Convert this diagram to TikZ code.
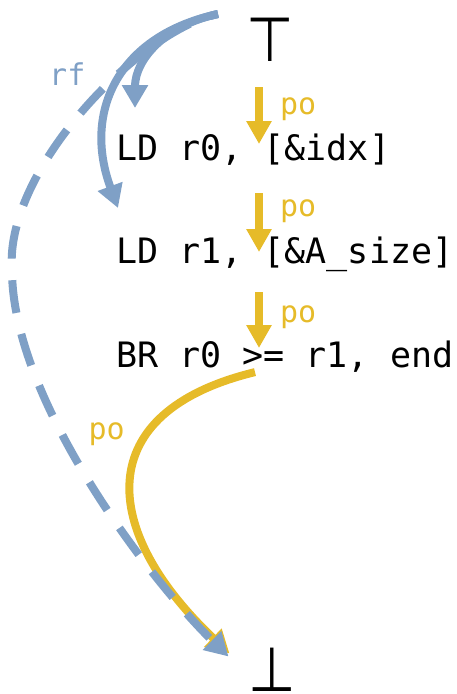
\documentclass[tikz,border=0pt]{standalone}
\usepackage{fontspec}
\setmainfont{DejaVu Sans}
\setmonofont{DejaVu Sans Mono}
\usepackage{xcolor}
\usetikzlibrary{arrows.meta}

\definecolor{rfblue}{RGB}{127,160,198}
\definecolor{poyellow}{RGB}{230,187,41}

\begin{document}
\begin{tikzpicture}[x=1pt, y=1pt,
        instr/.style={anchor=base west, inner sep=0pt, font=\fontsize{35}{35}\selectfont\ttfamily},
        bound/.style={inner sep=0pt, font=\fontsize{62}{62}\selectfont},
        lbl/.style={inner sep=0pt, anchor=base west, font=\fontsize{30}{30}\selectfont\ttfamily},
        po/.style={draw=poyellow, line width=8pt, -{Triangle[length=23pt, width=24pt]}},
        rf/.style={draw=rfblue, line width=8pt, -{Triangle[length=23pt, width=25pt]}}]

        \useasboundingbox (0,0) rectangle (456,-694);

        \node[bound] (top) at (270,-39.5) {\scalebox{0.88}[1]{⊤}};
        \node[instr] (ld0) at (116,-160) {LD r0, [\&idx]};
        \node[instr] (ld1) at (116,-263) {LD r1, [\&A\_size]};
        \node[instr] (br) at (116,-367) {BR r0 >= r1, end};
        \node[bound] (bot) at (272.5,-669.5) {\scalebox{0.88}[1]{⊥}};

        \coordinate (col) at (259,0);
        \coordinate (rfsrc) at (218,-14);

        % program order
        \draw[po] ([yshift=-26pt]top.south -| col) -- ([yshift=16pt]ld0.base -| col)
            node[lbl, text=poyellow, pos=0, xshift=17pt, yshift=-27pt] (po0) {po};
        \draw[po] ([yshift=-33pt]ld0.base -| col) -- ([yshift=11pt]ld1.base -| col)
            node[lbl, text=poyellow, pos=0, xshift=17pt, yshift=-23pt] (po1) {po};
        \draw[po] ([yshift=-29pt]ld1.base -| col) -- ([yshift=19pt]br.base -| col)
            node[lbl, text=poyellow, pos=0, xshift=17pt, yshift=-30pt] (po2) {po};
        \draw[po] ([xshift=-4pt]br.south -| col)
            .. controls +(-165,-40) and +(-130,123) .. ([xshift=-43pt, yshift=16pt]bot.center)
            node[lbl, text=poyellow, pos=0.35, xshift=-59pt] (po3) {po};

        % reads-from
        \draw[rf] (rfsrc) .. controls +(-53,-11) and +(0,48) .. ([xshift=19pt, yshift=52pt]ld0.base west);
        \draw[rf] (rfsrc) .. controls +(-98,-21) and +(-36,98) .. ([xshift=2pt, yshift=55pt]ld1.base west);
        \draw[rf, dash pattern=on 33pt off 21.6pt, dash phase=24.8pt] (rfsrc)
            .. controls (140,-30) and (4,-170) .. (12,-270)
            .. controls (12,-400) and (150,-580) .. ([xshift=-44pt, yshift=13pt]bot.center);
        \node[lbl, text=rfblue] (rf0) at (49,-85) {rf};

    \end{tikzpicture}
\end{document}
